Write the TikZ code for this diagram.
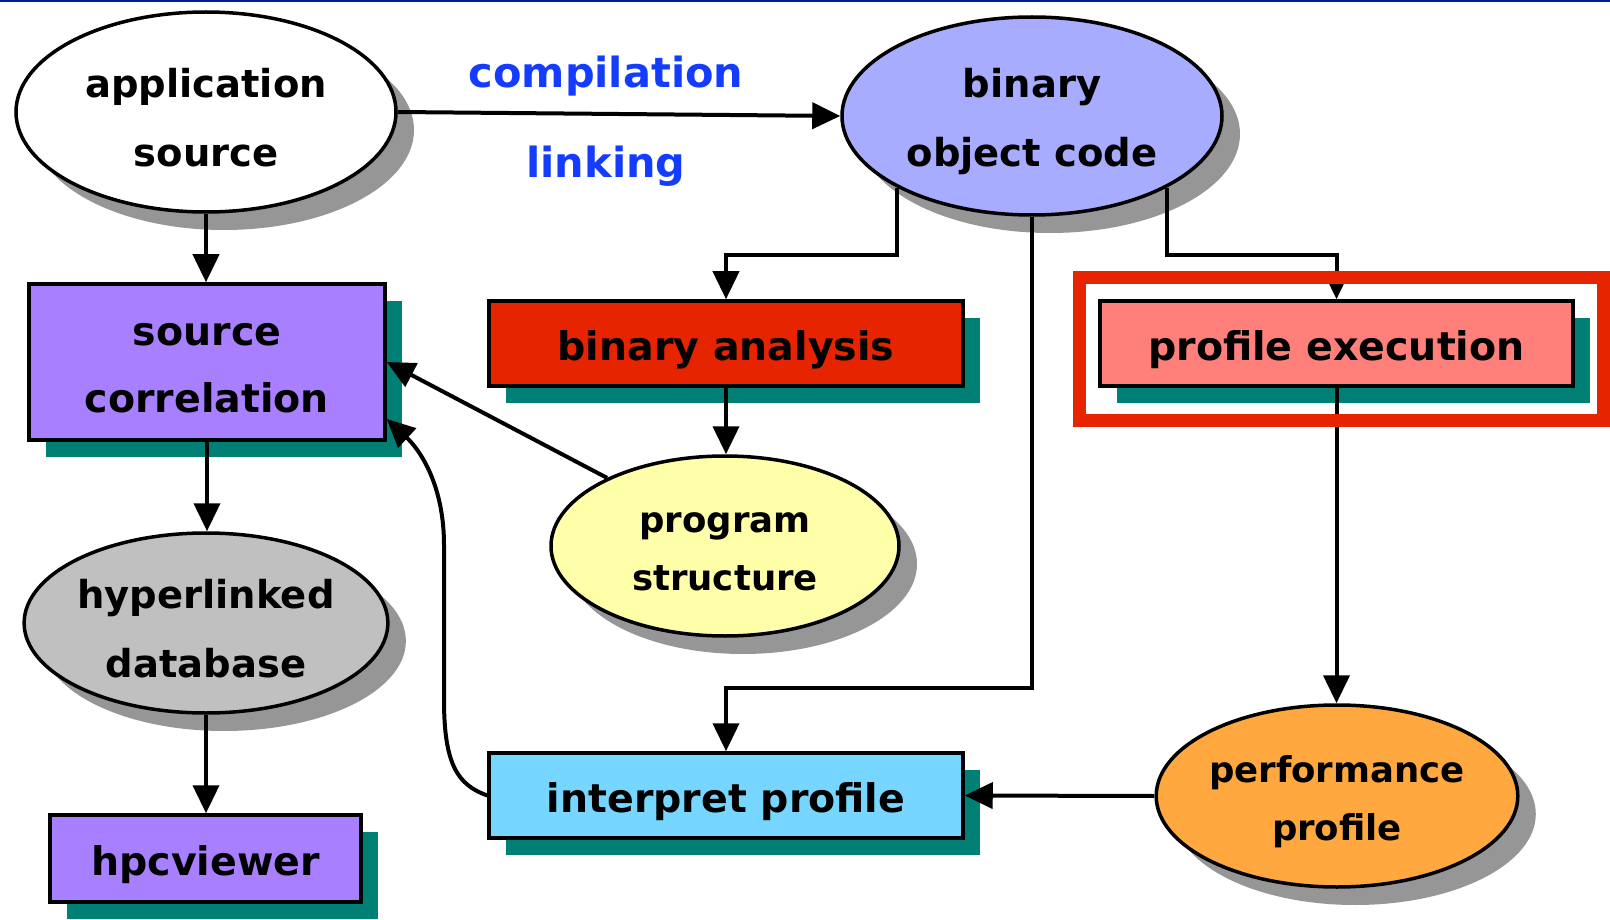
\documentclass[tikz,border=0pt]{standalone}
\usepackage{fontspec}
\setmainfont{DejaVu Sans}
\usetikzlibrary{shapes.geometric,arrows.meta,shadows,calc}
\definecolor{binfill}{RGB}{168,172,255}
\definecolor{srcfill}{RGB}{168,128,255}
\definecolor{anafill}{RGB}{230,36,0}
\definecolor{proffill}{RGB}{255,128,122}
\definecolor{progfill}{RGB}{255,255,170}
\definecolor{hypfill}{RGB}{192,192,192}
\definecolor{intfill}{RGB}{118,214,255}
\definecolor{perffill}{RGB}{255,168,64}
\definecolor{tealsh}{RGB}{0,128,116}
\definecolor{graysh}{RGB}{150,150,150}
\definecolor{framered}{RGB}{230,36,0}
\definecolor{labelblue}{RGB}{20,60,255}
\definecolor{topblue}{RGB}{0,32,150}
\newcommand\fntEll{\fontsize{38.5}{69}\selectfont\bfseries}
\newcommand\fntSm{\fontsize{35.5}{58}\selectfont\bfseries}
\newcommand\fntBox{\fontsize{39.5}{67}\selectfont\bfseries}
\newcommand\fntLbl{\fontsize{41.5}{50}\selectfont\bfseries}
\newcommand\dn[1]{\raisebox{-6pt}[\height][\depth]{#1}}
\begin{document}
\begin{tikzpicture}[x=1pt,y=-1pt,
  ell/.style={ellipse, draw=black, line width=3.5pt, inner sep=0pt, align=center,
    drop shadow={shadow xshift=18pt, shadow yshift=-18pt, fill=graysh, opacity=1}},
  bx/.style={rectangle, draw=black, line width=3.5pt, inner sep=0pt, align=center,
    drop shadow={shadow xshift=17pt, shadow yshift=-17pt, fill=tealsh, opacity=1}},
  arr/.style={line width=4pt, -{Triangle[length=28pt,width=26pt]}},
  lbl/.style={text=labelblue, font=\fntLbl, inner sep=0pt}]
\useasboundingbox (0,0) rectangle (1610,920);
\fill[white] (0,0) rectangle (1610,920);
\draw[topblue, line width=2.5pt] (0,1) -- (1610,1);

% nodes
\node[ell, fill=white, minimum width=380pt, minimum height=200pt, font=\fntEll] (app) at (206,112) {\dn{application}\\\dn{source}};
\node[ell, fill=binfill, minimum width=380pt, minimum height=198pt, font=\fntEll] (bin) at (1032,116) {\dn{binary}\\\dn{object code}};
\node[bx, fill=srcfill, minimum width=356pt, minimum height=156pt, font=\fntBox] (srccor) at (207,362) {\dn{source}\\\dn{correlation}};
\node[bx, fill=anafill, minimum width=474pt, minimum height=85pt, font=\fntBox] (binana) at (726,343.5) {\dn{binary analysis}};
\node[bx, fill=proffill, minimum width=473pt, minimum height=85pt, font=\fntBox] (profex) at (1336.5,343.5) {\dn{profile execution}};
\node[ell, fill=progfill, minimum width=348pt, minimum height=180pt, font=\fntSm] (prog) at (725,546) {\dn{program}\\\dn{structure}};
\node[ell, fill=hypfill, minimum width=350pt, minimum height=180pt, font=\fntEll] (hyper) at (206,623) {\dn{hyperlinked}\\\dn{database}};
\node[bx, fill=srcfill, minimum width=311pt, minimum height=87pt, font=\fntBox] (hpcv) at (205.5,858.5) {\dn{hpcviewer}};
\node[bx, fill=intfill, minimum width=474pt, minimum height=85pt, font=\fntBox] (interp) at (726,795.5) {\dn{interpret profile}};
\node[ell, fill=perffill, minimum width=348pt, minimum height=182pt, font=\fntSm] (perf) at (1337,796) {\dn{performance}\\\dn{profile}};

\node[lbl] (comp) at (606,76) {compilation};
\node[lbl] (link) at (606,166) {linking};

% connectors
\draw[arr] (app.south) -- (app.south |- srccor.north);
\draw[arr] (app.east) -- (bin.west);
\draw[arr] (bin.208.6) |- ($(binana.north)+(0,-44)$) -- (binana.north);
\draw[arr] (bin.south) |- ($(interp.north)+(0,-63)$) -- (interp.north);
\draw[arr] (bin.332.8) |- ($(profex.north)+(0,-44)$) -- (profex.north);
\draw[arr] (binana.south) -- (binana.south |- prog.north);
\draw[arr] (prog.150.9) -- (srccor.east);
\coordinate (sc2) at ($(srccor.east)+(0,57)$);
\draw[arr] (interp.west) .. controls (458,785) and (444,765) .. (444,700) -- (444,545) .. controls (444,485) and (420,450) .. (sc2);
\draw[arr] (profex.south) -- (profex.south |- perf.north);
\draw[arr] (perf.west) -- (interp.east);
\draw[arr] (srccor.south) -- (srccor.south |- hyper.north);
\draw[arr] (hyper.south) -- (hyper.south |- hpcv.north);

% highlight frame
\draw[framered, line width=13pt] (1079.5,277.5) rectangle (1603.5,420.5);
\end{tikzpicture}
\end{document}
